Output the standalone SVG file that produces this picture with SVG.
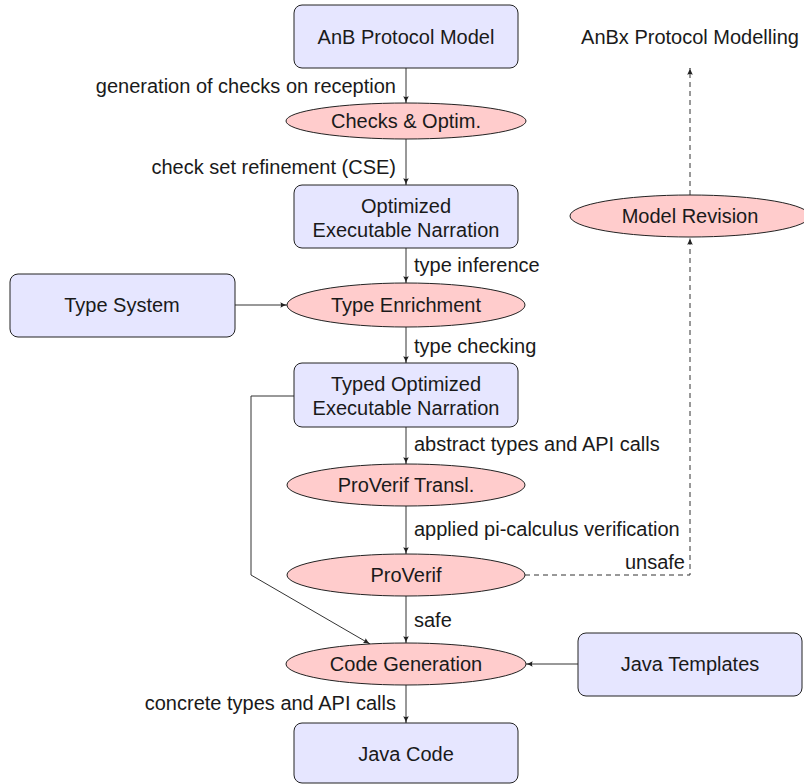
<svg xmlns="http://www.w3.org/2000/svg" width="804" height="784" viewBox="0 0 804 784">
  <style>
    text { font-family: "Liberation Sans", Arial, sans-serif; font-size: 20px; fill: #1a1a1a; dominant-baseline: central; }
    .box { fill: #e6e6ff; stroke: #222; stroke-width: 1; }
    .proc { fill: #ffcccc; stroke: #222; stroke-width: 1; }
    .c { text-anchor: middle; }
    .r { text-anchor: end; }
    .edge { fill: none; stroke: #333; stroke-width: 1; marker-end: url(#tip); }
    .dash { stroke-dasharray: 5 4; }
  </style>
  <defs>
    <marker id="tip" viewBox="0 0 10 10" refX="9.5" refY="5" markerWidth="7" markerHeight="7" markerUnits="userSpaceOnUse" orient="auto">
      <path d="M0,1 Q5,4 10,5 Q5,6 0,9 Q2,5 0,1 Z" fill="#222"/>
    </marker>
  </defs>

  <rect width="804" height="784" fill="#ffffff"/>

  <!-- connectors -->
  <g id="connectors">
    <path class="edge" d="M406,68 V103"/>
    <path class="edge" d="M406,139 V185"/>
    <path class="edge" d="M406,248 V283"/>
    <path class="edge" d="M235,305 H287"/>
    <path class="edge" d="M406,327 V363"/>
    <path class="edge" d="M406,427 V464"/>
    <path class="edge" d="M406,506 V554"/>
    <path class="edge" d="M406,596 V643"/>
    <path class="edge" d="M294,396 H251 V575 L370,644"/>
    <path class="edge" d="M578,664 H526"/>
    <path class="edge" d="M406,685 V723"/>
    <path class="edge dash" d="M525,575 H690 V238"/>
    <path class="edge dash" d="M690,195 V68"/>

    <text class="r" x="396" y="86">generation of checks on reception</text>
    <text class="r" x="396" y="167">check set refinement (CSE)</text>
    <text x="414" y="265">type inference</text>
    <text x="414" y="346">type checking</text>
    <text x="414" y="444">abstract types and API calls</text>
    <text x="414" y="529">applied pi-calculus verification</text>
    <text x="414" y="620">safe</text>
    <text class="r" x="685" y="562">unsafe</text>
    <text class="r" x="396" y="703">concrete types and API calls</text>
  </g>

  <!-- nodes -->
  <g id="anb-model">
    <rect class="box" x="294" y="5" width="224" height="63" rx="8"/>
    <text class="c" x="406" y="37">AnB Protocol Model</text>
  </g>
  <g id="checks">
    <ellipse class="proc" cx="406" cy="121" rx="120" ry="18"/>
    <text class="c" x="406" y="121">Checks &amp; Optim.</text>
  </g>
  <g id="optimized-narration">
    <rect class="box" x="294" y="185" width="224" height="63" rx="8"/>
    <text class="c" x="406" y="206">Optimized</text>
    <text class="c" x="406" y="230">Executable Narration</text>
  </g>
  <g id="type-system">
    <rect class="box" x="10" y="274" width="225" height="63" rx="8"/>
    <text class="c" x="122" y="305">Type System</text>
  </g>
  <g id="type-enrichment">
    <ellipse class="proc" cx="406" cy="305" rx="119" ry="22"/>
    <text class="c" x="406" y="305">Type Enrichment</text>
  </g>
  <g id="typed-narration">
    <rect class="box" x="294" y="363" width="224" height="64" rx="8"/>
    <text class="c" x="406" y="384">Typed Optimized</text>
    <text class="c" x="406" y="408">Executable Narration</text>
  </g>
  <g id="proverif-transl">
    <ellipse class="proc" cx="406" cy="485" rx="119" ry="21"/>
    <text class="c" x="406" y="485">ProVerif Transl.</text>
  </g>
  <g id="proverif">
    <ellipse class="proc" cx="406" cy="575" rx="119" ry="21"/>
    <text class="c" x="406" y="575">ProVerif</text>
  </g>
  <g id="code-generation">
    <ellipse class="proc" cx="406" cy="664" rx="120" ry="21"/>
    <text class="c" x="406" y="664">Code Generation</text>
  </g>
  <g id="java-templates">
    <rect class="box" x="578" y="633" width="224" height="63" rx="8"/>
    <text class="c" x="690" y="664">Java Templates</text>
  </g>
  <g id="java-code">
    <rect class="box" x="294" y="723" width="224" height="60" rx="8"/>
    <text class="c" x="406" y="754">Java Code</text>
  </g>
  <g id="model-revision">
    <ellipse class="proc" cx="690" cy="216" rx="120" ry="21"/>
    <text class="c" x="690" y="216">Model Revision</text>
  </g>
  <g id="anbx-modelling">
    <text class="c" x="690" y="37">AnBx Protocol Modelling</text>
  </g>
</svg>
